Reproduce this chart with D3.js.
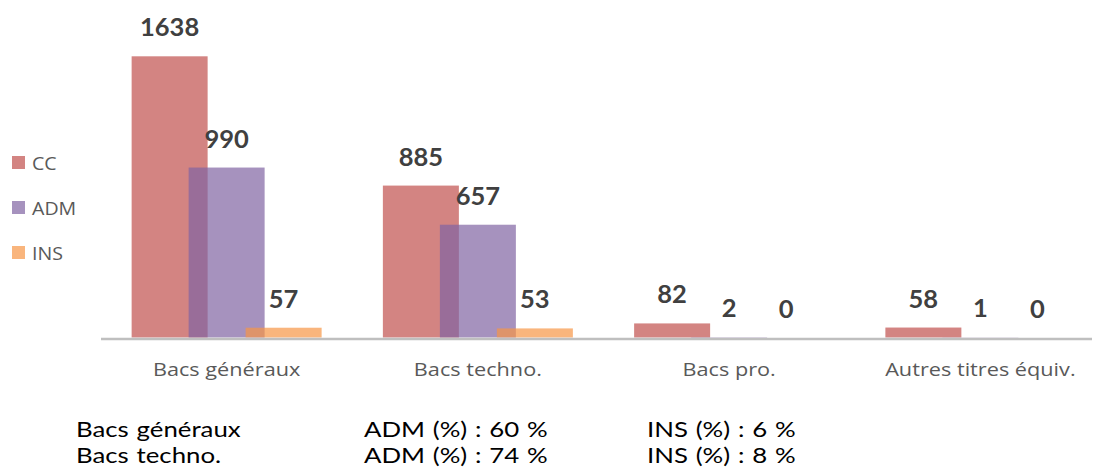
<!DOCTYPE html>
<html>
<head>
<meta charset="utf-8">
<script src="https://cdn.jsdelivr.net/npm/d3@7"></script>
<style>
  body { margin: 0; background: #fff; }
  svg { display: block; }
</style>
</head>
<body>
<div id="chart"></div>
<script>
// Data
const categories = ['Bacs généraux', 'Bacs techno.', 'Bacs pro.', 'Autres titres équiv.'];
const seriesNames = ['CC', 'ADM', 'INS'];
const ccValues = [1638, 885, 82, 58];
const admValues = [990, 657, 2, 1];
const insValues = [57, 53, 0, 0];
const noteRows = [
  ['Bacs généraux', 'ADM (%) : 60 %', 'INS (%) : 6 %'],
  ['Bacs techno.', 'ADM (%) : 74 %', 'INS (%) : 8 %'],
];

const colors = { CC: '#c0504d', ADM: '#8064a2', INS: '#f79646' };

const width = 1096, height = 467;
const svg = d3.select('#chart').append('svg')
  .attr('width', width).attr('height', height);

// Scales
const x = d3.scaleBand().domain(categories).range([101, 1106]);
const xs = d3.scalePoint().domain(seriesNames).range([-57, 57]);
const barW = 76;
const y = d3.scaleLinear().domain([0, 1800]).range([337.5, 28.5]);

const values = { CC: ccValues, ADM: admValues, INS: insValues };
const cx = (cat) => x(cat) + x.bandwidth() / 2;

// Bars, one series after the other so later ones sit on top
seriesNames.forEach((s) => {
  svg.append('g').selectAll('rect')
    .data(categories.map((c, i) => ({ cat: c, v: values[s][i] })))
    .join('rect')
    .attr('x', (d) => cx(d.cat) + xs(s) - barW / 2)
    .attr('y', (d) => y(d.v))
    .attr('width', barW)
    .attr('height', (d) => y(0) - y(d.v))
    .attr('fill', colors[s])
    .attr('fill-opacity', 0.7);
});

// Axis line
svg.append('line')
  .attr('x1', 101).attr('x2', 1092)
  .attr('y1', y(0) + 1.5).attr('y2', y(0) + 1.5)
  .attr('stroke', '#bfbfbf').attr('stroke-width', 2.5);

// Value labels
seriesNames.forEach((s) => {
  svg.append('g').selectAll('text')
    .data(categories.map((c, i) => ({ cat: c, v: values[s][i] })))
    .join('text')
    .attr('x', (d) => cx(d.cat) + xs(s))
    .attr('y', (d) => y(d.v) - 20)
    .attr('text-anchor', 'middle')
    .style('font-family', 'Lato, sans-serif')
    .style('font-weight', 'bold')
    .style('font-size', '25.5px')
    .style('fill', '#404040')
    .text((d) => d.v);
});

// Category labels (text in the original is drawn a bit wide)
svg.append('g').selectAll('text')
  .data(categories)
  .join('text')
  .attr('transform', (d) => `translate(${cx(d)},376) scale(1.24,1)`)
  .attr('text-anchor', 'middle')
  .style('font-family', '"Open Sans", sans-serif')
  .style('font-size', '17.5px')
  .style('fill', '#595959')
  .text((d) => d);

// Legend
const legend = svg.append('g').selectAll('g')
  .data(seriesNames)
  .join('g')
  .attr('transform', (d, i) => `translate(12, ${156 + i * 45})`);
legend.append('rect')
  .attr('width', 13).attr('height', 13)
  .attr('fill', (d) => colors[d]).attr('fill-opacity', 0.7);
legend.append('text')
  .attr('transform', 'translate(20,14) scale(1.12,1)')
  .style('font-family', '"Open Sans", sans-serif')
  .style('font-size', '17.5px')
  .style('fill', '#595959')
  .text((d) => d);

// Notes under the chart
const colX = [76, 364, 647];
noteRows.forEach((row, r) => {
  row.forEach((t, k) => {
    svg.append('text')
      .attr('transform', `translate(${colX[k]},${437 + r * 26}) scale(1.2,1)`)
      .style('font-family', 'Lato, sans-serif')
      .style('font-size', '21.5px')
      .style('word-spacing', '1px')
      .style('fill', '#000')
      .text(t);
  });
});
</script>
</body>
</html>
